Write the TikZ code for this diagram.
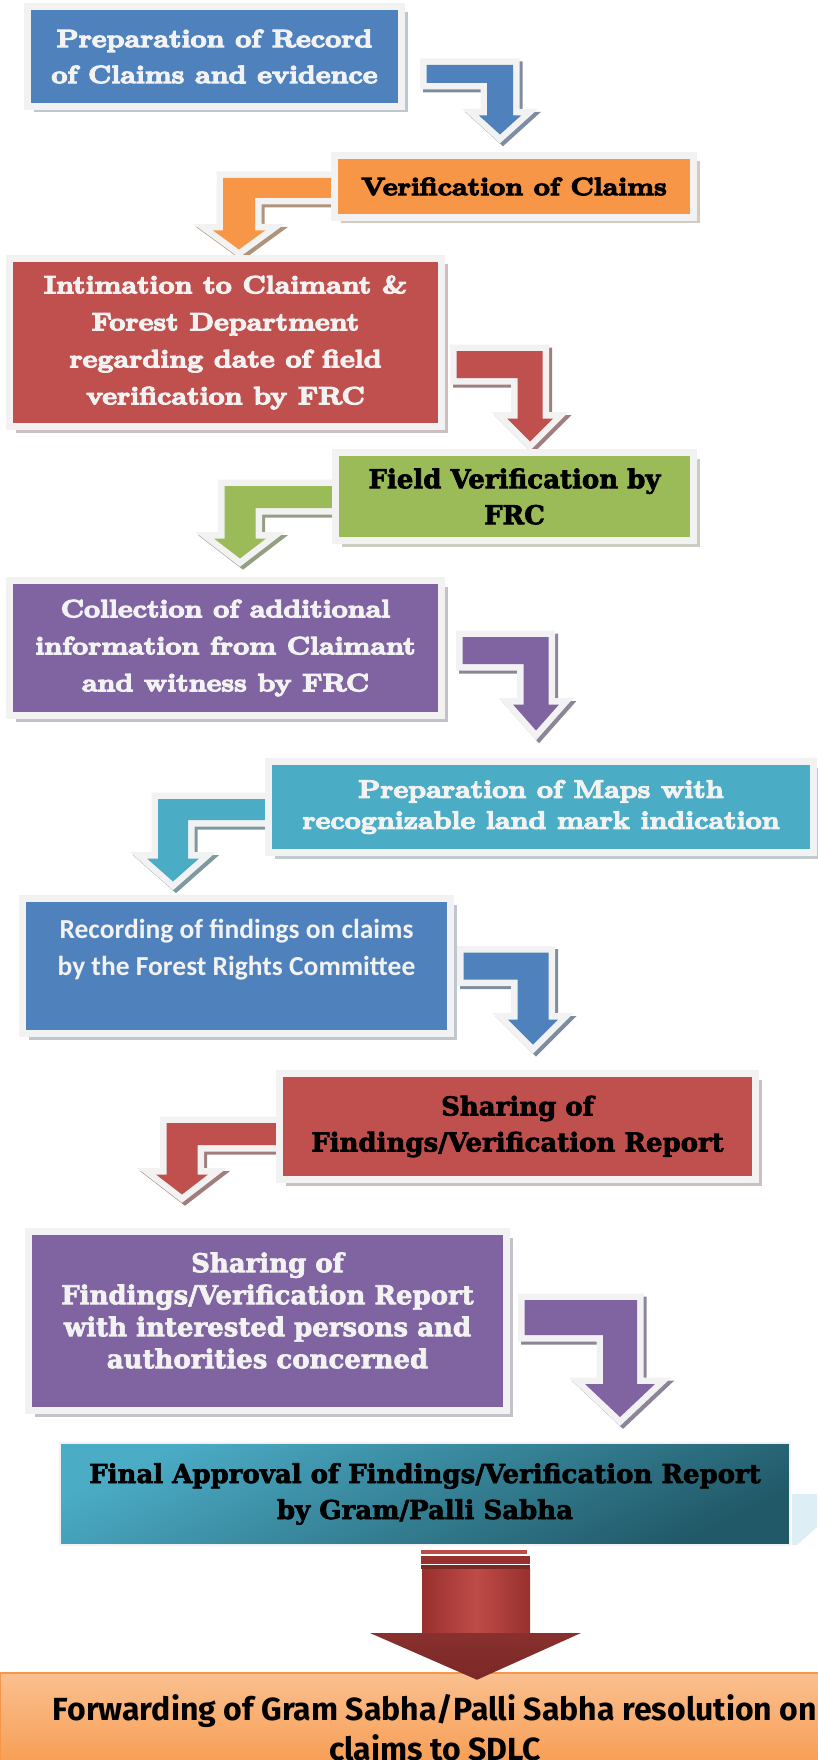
\documentclass[tikz,border=0pt]{standalone}
\usepackage{fontspec}
\usetikzlibrary{shadows, calc, backgrounds}

\newfontfamily\fatfont{lmroman10-bold.otf}[FakeBold=5, FakeStretch=1.12]
\newfontfamily\condfont{DejaVu Serif}[FakeBold=2.5]
\newfontfamily\calibrifont{Carlito}
\newfontfamily\comicfont{Fira Sans}

\definecolor{cblue}{HTML}{4F81BD}
\definecolor{corange}{HTML}{F79646}
\definecolor{cred}{HTML}{C0504D}
\definecolor{cgreen}{HTML}{9BBB59}
\definecolor{cpurple}{HTML}{8064A2}
\definecolor{caqua}{HTML}{4BACC6}
\definecolor{caquadark}{HTML}{215968}
\definecolor{framegray}{HTML}{F2F2F2}
\definecolor{peach}{HTML}{FAC090}
\definecolor{paleaqua}{HTML}{DDEFF4}
\definecolor{bigred}{HTML}{BE4B48}
\definecolor{bigredmid}{HTML}{98302E}
\definecolor{bigreddark}{HTML}{7A2826}

% one layer of a bent arrow: style, from, tip, half bar, half shaft, half head, head length, offset
\newcommand{\arrowlayer}[8]{%
  \path[#1] let \p1=(#2), \p2=(#3), \n1={sign(\x2-\x1)} in
    ({\x1+#8},{\y1+#4-#8}) -- ({\x2+\n1*#5+#8},{\y1+#4-#8})
    -- ({\x2+\n1*#5+#8},{\y2+#7-#8}) -- ({\x2+\n1*#6+#8},{\y2+#7-#8})
    -- ({\x2+#8},{\y2-#8})
    -- ({\x2-\n1*#6+#8},{\y2+#7-#8}) -- ({\x2-\n1*#5+#8},{\y2+#7-#8})
    -- ({\x2-\n1*#5+#8},{\y1-#4-#8}) -- ({\x1+#8},{\y1-#4-#8}) -- cycle;}
\newcommand{\bentarrow}[7]{%
  \arrowlayer{fill=#1!50!black!60!white, draw=#1!50!black!60!white, line width=13pt, line join=miter}{#2}{#3}{#4}{#5}{#6}{#7}{3pt}%
  \arrowlayer{fill=framegray, draw=framegray, line width=13pt, line join=miter}{#2}{#3}{#4}{#5}{#6}{#7}{0pt}%
  \arrowlayer{fill=#1}{#2}{#3}{#4}{#5}{#6}{#7}{0pt}}

\tikzset{
  stepbox/.style={rectangle, fill=#1, draw=framegray, line width=7pt,
    drop shadow={shadow xshift=6pt, shadow yshift=-6pt, fill=#1!50!black!60!white},
    align=center, text=framegray, font=\fatfont\fontsize{25}{36}\selectfont},
  condtext/.style={font=\condfont\bfseries\fontsize{26}{36}\selectfont},
  finalbox/.style={rectangle, draw=framegray, line width=2pt, top color=caqua, bottom color=caquadark,
    shading angle=25, align=center, text=black, minimum width=730pt, minimum height=102pt},
  forwardbox/.style={rectangle, draw=corange, line width=2.5pt, top color=peach, bottom color=corange,
    align=center, text=black, minimum width=870pt, minimum height=110pt,
    font=\comicfont\bfseries\fontsize{32}{40}\selectfont},
}

\begin{document}
\begin{tikzpicture}[x=1pt, y=-1pt]
\useasboundingbox (0,0) rectangle (817,1760);

% steps
\node[stepbox=cblue, minimum width=374pt, minimum height=100pt] (prep) at (214.5,56.5)
  {Preparation of Record\\of Claims and evidence};
\node[stepbox=corange, text=black, minimum width=359pt, minimum height=62pt] (verif) at (514,186.5)
  {Verification of Claims};
\node[stepbox=cred, minimum width=432pt, minimum height=168pt, font=\fatfont\fontsize{25}{37}\selectfont] (intim) at (225.5,342.5)
  {Intimation to Claimant \&\\Forest Department\\regarding date of field\\verification by FRC};
\node[stepbox=cgreen, condtext, text=black, minimum width=358pt, minimum height=88pt] (field) at (514.5,496.5)
  {Field Verification by\\FRC};
\node[stepbox=cpurple, minimum width=432pt, minimum height=135pt, font=\fatfont\fontsize{25}{37}\selectfont] (collect) at (225.5,648)
  {Collection of additional\\information from Claimant\\and witness by FRC};
\node[stepbox=caqua, minimum width=545pt, minimum height=91pt, font=\fatfont\fontsize{25}{31}\selectfont] (maps) at (541,807)
  {Preparation of Maps with\\recognizable land mark indication};
\node[stepbox=cblue, minimum width=428pt, minimum height=135pt] (record) at (236.5,966) {};
\node[align=center, text=framegray, font=\calibrifont\bfseries\fontsize{27.5}{37}\selectfont] (recordtext)
  at ([yshift=16.5pt]record.center) {Recording of findings on claims\\by the Forest Rights Committee};
\node[stepbox=cred, condtext, text=black, minimum width=476pt, minimum height=106pt] (share) at (517.5,1126.5)
  {Sharing of\\Findings/Verification Report};
\node[stepbox=cpurple, minimum width=478pt, minimum height=179pt] (sharewith) at (267.5,1321) {};
\node[align=center, text=framegray, font=\condfont\bfseries\fontsize{26}{32}\selectfont] (sharewithtext)
  at ([yshift=10.5pt]sharewith.center)
  {Sharing of\\Findings/Verification Report\\with interested persons and\\authorities concerned};
\fill[paleaqua] (792,1494) -- (817,1494) -- (817,1527) -- (797,1545) -- (792,1545) -- cycle;
\node[finalbox, condtext] (final) at (425,1494)
  {Final Approval of Findings/Verification Report\\by Gram/Palli Sabha};
\node[forwardbox] (forward) at (435,1728)
  {Forwarding of Gram Sabha/Palli Sabha resolution on\\claims to SDLC};

% bent arrows behind the steps
\begin{scope}[on background layer]
\bentarrow{cblue}{[xshift=21.5pt,yshift=-17.5pt]prep.east}{[xshift=-14pt,yshift=17.5pt]verif.north}{9pt}{13pt}{21pt}{19pt}
\bentarrow{corange}{[yshift=-1.5pt]verif.west}{[xshift=13.5pt,yshift=5.5pt]intim.north}{10pt}{16pt}{26pt}{19pt}
\bentarrow{cred}{[xshift=11.5pt,yshift=-22pt]intim.east}{[xshift=15.5pt,yshift=7.5pt]field.north}{13.5pt}{12.5pt}{23pt}{23pt}
\bentarrow{cgreen}{[yshift=-0.5pt]field.west}{[xshift=14.5pt,yshift=18.5pt]collect.north}{11pt}{15.5pt}{26pt}{20pt}
\bentarrow{cpurple}{[xshift=17.5pt,yshift=-2.5pt]collect.east}{[xshift=-5pt,yshift=27.5pt]maps.north}{13.5pt}{12.5pt}{23pt}{26pt}
\bentarrow{caqua}{[yshift=-2.5pt]maps.west}{[xshift=-63.5pt,yshift=13.5pt]record.north}{10.5pt}{15pt}{26pt}{23pt}
\bentarrow{cblue}{[xshift=9.5pt]record.east}{[xshift=15.5pt,yshift=25.5pt]share.north}{13.5pt}{15.5pt}{25pt}{25pt}
\bentarrow{cred}{[yshift=-7.5pt]share.west}{[xshift=-85.5pt,yshift=33.5pt]sharewith.north}{11pt}{15.5pt}{26pt}{20pt}
\bentarrow{cpurple}{[xshift=14.5pt,yshift=3.5pt]sharewith.east}{[xshift=195pt,yshift=25pt]final.north}{17.5pt}{17pt}{35pt}{33pt}
\end{scope}

% block arrow to the last step
\coordinate (bigtop) at ([xshift=51pt,yshift=-4pt]final.south);
\fill[bigred] (bigtop) ++(-55,0) rectangle ++(106,4);
\fill[bigredmid] (bigtop) ++(-55,6) rectangle ++(109,8);
\fill[bigreddark] (bigtop) ++(-55,15) rectangle ++(109,4);
\shade[left color=bigredmid, right color=bigredmid, middle color=bigred] (bigtop) ++(-54,19) rectangle ++(108,64);
\shade[top color=bigred!85!black, bottom color=bigreddark] (bigtop) ++(-106,83) -- ++(211,0) -- ($(forward.north)+(42,8)$) -- cycle;

\end{tikzpicture}
\end{document}
